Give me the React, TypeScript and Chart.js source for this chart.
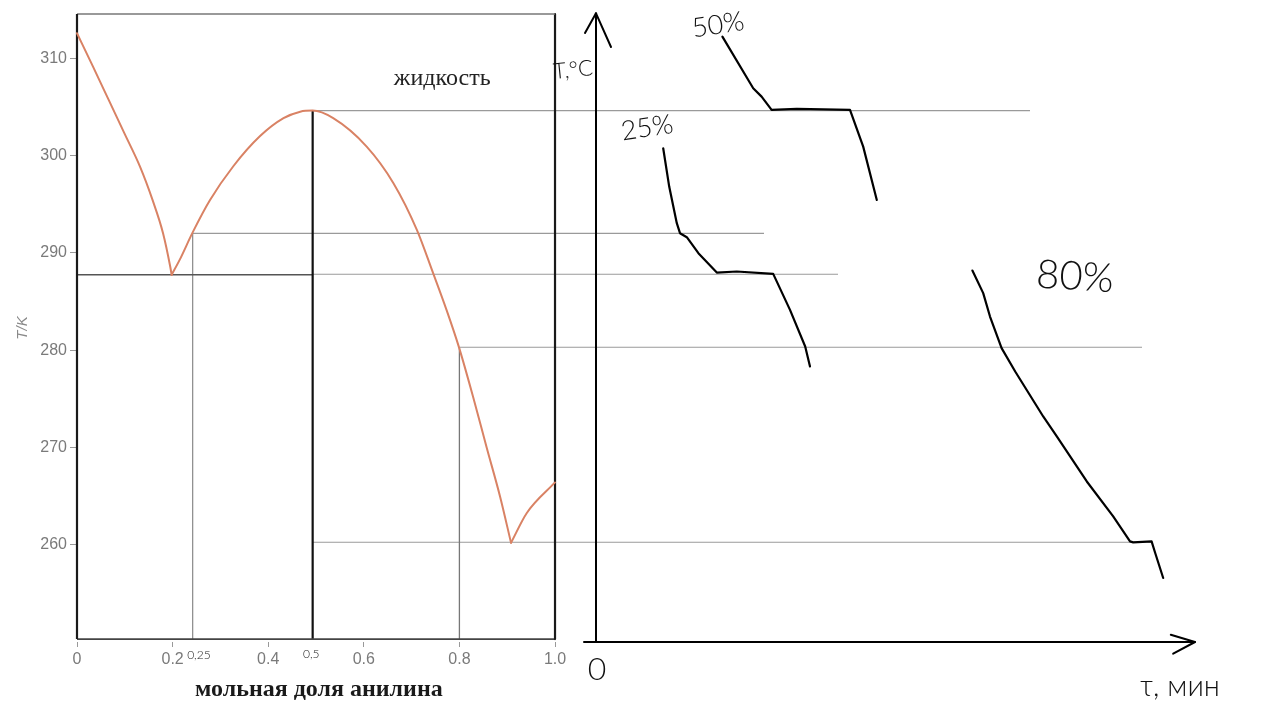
import React, { useEffect, useRef } from "react";
import { Chart, registerables } from "chart.js";

Chart.register(...registerables);

// ---------- axes ----------
const COMPOSITION_TICKS = [0, 0.2, 0.4, 0.6, 0.8, 1.0];
const TEMPERATURE_TICKS = [260, 270, 280, 290, 300, 310];
const T_MIN = 250;
const T_MAX = 314.55;
const X_MIN = 0;
const X_MAX = 2.433;
const TIME_MIN = -12.975;
const TIME_MAX = 16.1;

// ---------- phase diagram (x = мольная доля анилина, T in K) ----------
const LIQUIDUS_PHENOL_X = [0, 0.0335, 0.0663, 0.099, 0.1318, 0.158, 0.18, 0.195, 0.198];
const LIQUIDUS_PHENOL_T = [312.57, 309.14, 305.72, 302.3, 298.86, 295.44, 292.02, 288.59, 287.74];

const LIQUIDUS_COMPOUND_X = [0.198, 0.215, 0.242, 0.278, 0.327, 0.383, 0.432, 0.467, 0.493, 0.536, 0.606, 0.662, 0.711, 0.745, 0.773, 0.799, 0.829, 0.857, 0.885, 0.908];
const LIQUIDUS_COMPOUND_T = [287.74, 289.3, 292.1, 295.4, 298.9, 302.0, 303.84, 304.51, 304.62, 303.84, 300.92, 297.16, 292.36, 287.91, 284.14, 280.31, 275.13, 269.99, 264.96, 260.2];

const LIQUIDUS_ANILINE_X = [0.908, 0.941, 1.0];
const LIQUIDUS_ANILINE_T = [260.2, 263.26, 266.4];

const FRAME_BOTTOM_T = 250.3;
const EUTECTIC_1_T = 287.75;
const COMPOUND_X = 0.493;
const COMPOUND_T = 304.62;
const SAMPLE_25_X = 0.242;
const SAMPLE_25_T = 292.0;
const SAMPLE_80_X = 0.8;
const SAMPLE_80_T = 280.3;
const EUTECTIC_2_T = 260.25;

// guide lines: temperature, start composition, end time on cooling plot
const GUIDE_T = [COMPOUND_T, SAMPLE_25_T, 287.8, SAMPLE_80_T, EUTECTIC_2_T];
const GUIDE_START_X = [COMPOUND_X, SAMPLE_25_X, COMPOUND_X, SAMPLE_80_X, COMPOUND_X];
const GUIDE_END_TIME = [10.85, 4.2, 6.05, 13.65, 13.9];
const BORDER_TIME = -1.025; // time value at composition 1.0

// ---------- cooling curves (time, min; T) ----------
const COOLING_50_TIME = [3.16, 3.93, 4.14, 4.39, 5.02, 6.35, 6.68, 7.02];
const COOLING_50_T = [312.22, 306.92, 306.06, 304.69, 304.79, 304.69, 300.92, 295.44];

const COOLING_25_TIME = [1.68, 1.83, 2.02, 2.1, 2.27, 2.56, 3.02, 3.52, 4.43, 4.85, 5.23, 5.35];
const COOLING_25_T = [300.75, 296.81, 293.05, 292.02, 291.61, 289.97, 287.97, 288.08, 287.84, 284.14, 280.37, 278.32];

const COOLING_80_TIME = [9.41, 9.68, 9.85, 10.14, 10.48, 11.18, 11.52, 12.27, 12.93, 13.35, 13.43, 13.89, 13.98, 14.18];
const COOLING_80_T = [288.18, 285.86, 283.45, 280.21, 277.8, 273.18, 271.13, 266.5, 262.91, 260.34, 260.24, 260.34, 259.15, 256.58];

// hand-drawn axes of the cooling plot
const TIME_AXIS_TIME = [-0.3, 14.975];
const TIME_ARROW_TIME = [14.37, 14.975, 14.43];
const TIME_ARROW_T = [250.75, 250, 248.8];
const TEMP_AXIS_T = [250, 314.62];
const TEMP_ARROW_TIME = [-0.275, 0, 0.375];
const TEMP_ARROW_T = [312.6, 314.62, 311.16];

type Note = { text: string; axis: "x" | "t"; at: number; temp: number; font: string; color: string; rotate?: number };
const NOTES: Note[] = [
  { text: "жидкость", axis: "x", at: 0.764, temp: 307.95, font: "24px 'Liberation Serif'", color: "#222" },
  { text: "мольная доля анилина", axis: "x", at: 0.506, temp: 245.1, font: "bold 24px 'Liberation Serif'", color: "#1a1a1a" },
  { text: "0,25", axis: "x", at: 0.255, temp: 248.6, font: "300 12px Lato", color: "#222" },
  { text: "0,5", axis: "x", at: 0.49, temp: 248.75, font: "300 12px Lato", color: "#222" },
  { text: "T,°C", axis: "t", at: -0.575, temp: 308.8, font: "300 22px Lato", color: "#111", rotate: -0.1 },
  { text: "50%", axis: "t", at: 3.05, temp: 313.42, font: "300 27px Lato", color: "#111", rotate: -0.15 },
  { text: "25%", axis: "t", at: 1.275, temp: 302.84, font: "300 27px Lato", color: "#111", rotate: -0.15 },
  { text: "80%", axis: "t", at: 11.975, temp: 287.53, font: "300 40px Lato", color: "#111", rotate: 0.06 },
  { text: "0", axis: "t", at: 0.025, temp: 247.2, font: "300 32px Lato", color: "#111" },
  { text: "τ, мин", axis: "t", at: 14.6, temp: 245.4, font: "300 29px Lato", color: "#111" },
];

const CURVE_COLOR = "rgb(217,130,100)";

function pts(xs: number[], ys: number[]) {
  return xs.map((x, i) => ({ x, y: ys[i] }));
}

function line(axis: "x" | "t", data: { x: number; y: number }[], color: string, width: number, extra: any = {}) {
  return {
    type: "line" as const,
    xAxisID: axis,
    yAxisID: "y",
    data,
    borderColor: color,
    borderWidth: width,
    pointRadius: 0,
    pointHoverRadius: 0,
    fill: false,
    tension: 0,
    clip: false as any,
    borderCapStyle: "round" as const,
    borderJoinStyle: "round" as const,
    ...extra,
  };
}

const notesPlugin = {
  id: "notes",
  afterDraw(chart: any) {
    const ctx = chart.ctx as CanvasRenderingContext2D;
    const yS = chart.scales.y;
    NOTES.forEach((n) => {
      const xS = chart.scales[n.axis];
      const px = xS.getPixelForValue(n.at);
      const py = yS.getPixelForValue(n.temp);
      ctx.save();
      ctx.translate(px, py);
      if (n.rotate) ctx.rotate(n.rotate);
      ctx.font = n.font;
      ctx.fillStyle = n.color;
      ctx.textAlign = "center";
      ctx.textBaseline = "middle";
      ctx.fillText(n.text, 0, 0);
      ctx.restore();
    });
  },
};

export default function App() {
  const ref = useRef<HTMLCanvasElement>(null);

  useEffect(() => {
    const prevMargin = document.body.style.margin;
    document.body.style.margin = "0";

    const datasets: any[] = [
      // liquidus curves
      line("x", pts(LIQUIDUS_PHENOL_X, LIQUIDUS_PHENOL_T), CURVE_COLOR, 2, { cubicInterpolationMode: "monotone" }),
      line("x", pts(LIQUIDUS_COMPOUND_X, LIQUIDUS_COMPOUND_T), CURVE_COLOR, 2, { cubicInterpolationMode: "monotone" }),
      line("x", pts(LIQUIDUS_ANILINE_X, LIQUIDUS_ANILINE_T), CURVE_COLOR, 2, { cubicInterpolationMode: "monotone" }),
      // cooling curves
      line("t", pts(COOLING_50_TIME, COOLING_50_T), "#000", 2.2),
      line("t", pts(COOLING_25_TIME, COOLING_25_T), "#000", 2.2),
      line("t", pts(COOLING_80_TIME, COOLING_80_T), "#000", 2.2),
      // frame of phase diagram
      line("x", pts([0, 0], [FRAME_BOTTOM_T, T_MAX]), "#1a1a1a", 2.2, { borderCapStyle: "butt" }),
      line("x", pts([0, 1], [T_MAX, T_MAX]), "#777", 1.6, { borderCapStyle: "butt" }),
      line("x", pts([1, 1], [T_MAX, FRAME_BOTTOM_T]), "#1a1a1a", 2.2, { borderCapStyle: "butt" }),
      line("x", pts([0, 1], [FRAME_BOTTOM_T, FRAME_BOTTOM_T]), "#444", 1.6, { borderCapStyle: "butt" }),
      // construction lines
      line("x", pts([COMPOUND_X, COMPOUND_X], [FRAME_BOTTOM_T, COMPOUND_T]), "#111", 2.2, { borderCapStyle: "butt" }),
      line("x", pts([0, COMPOUND_X], [EUTECTIC_1_T, EUTECTIC_1_T]), "#555", 1.5, { borderCapStyle: "butt" }),
      line("x", pts([SAMPLE_25_X, SAMPLE_25_X], [FRAME_BOTTOM_T, SAMPLE_25_T]), "#888", 1.2, { borderCapStyle: "butt" }),
      line("x", pts([SAMPLE_80_X, SAMPLE_80_X], [FRAME_BOTTOM_T, SAMPLE_80_T]), "#777", 1.3, { borderCapStyle: "butt" }),
      // hand-drawn axes
      line("t", pts([0, 0], TEMP_AXIS_T), "#000", 2),
      line("t", pts(TEMP_ARROW_TIME, TEMP_ARROW_T), "#000", 2),
      line("t", pts(TIME_AXIS_TIME, [250, 250]), "#000", 2),
      line("t", pts(TIME_ARROW_TIME, TIME_ARROW_T), "#000", 2),
    ];

    GUIDE_T.forEach((t, i) => {
      datasets.push(line("x", pts([GUIDE_START_X[i], 1], [t, t]), "#9a9a9a", 1.1, { borderCapStyle: "butt" }));
      datasets.push(line("t", pts([BORDER_TIME, GUIDE_END_TIME[i]], [t, t]), "#9a9a9a", 1.1, { borderCapStyle: "butt" }));
    });

    const chart = new Chart(ref.current!, {
      type: "line",
      data: { datasets },
      options: {
        animation: false,
        responsive: false,
        devicePixelRatio: 1,
        layout: { padding: { left: 0, right: 40, top: 14, bottom: 0 } },
        plugins: { legend: { display: false }, tooltip: { enabled: false }, title: { display: false } },
        events: [],
        scales: {
          x: {
            type: "linear",
            position: "bottom",
            min: X_MIN,
            max: X_MAX,
            border: { display: false },
            grid: { display: true, drawOnChartArea: false, drawTicks: true, tickLength: 5, color: "#999", tickColor: "#999" },
            ticks: {
              autoSkip: false,
              maxRotation: 0,
              padding: 3,
              color: "#7a7a7a",
              font: { family: "'Liberation Sans', Arial", size: 16 },
              callback: (v: any) => (Number(v) === 0 ? "0" : Number(v).toFixed(1)),
            },
            afterBuildTicks: (s: any) => {
              s.ticks = COMPOSITION_TICKS.map((v) => ({ value: v }));
            },
            afterFit: (s: any) => {
              s.height = 78;
            },
          },
          t: {
            type: "linear",
            position: "bottom",
            display: false,
            min: TIME_MIN,
            max: TIME_MAX,
          },
          y: {
            type: "linear",
            position: "left",
            min: T_MIN,
            max: T_MAX,
            border: { display: false },
            grid: { display: true, drawOnChartArea: false, drawTicks: true, tickLength: 7, color: "#999", tickColor: "#999" },
            ticks: {
              autoSkip: false,
              padding: 3,
              color: "#7a7a7a",
              font: { family: "'Liberation Sans', Arial", size: 16 },
            },
            afterBuildTicks: (s: any) => {
              s.ticks = TEMPERATURE_TICKS.map((v) => ({ value: v }));
            },
            afterFit: (s: any) => {
              s.width = 77;
            },
            title: {
              display: true,
              text: "T/K",
              color: "#8a8a8a",
              font: { family: "'Liberation Sans', Arial", size: 15, style: "italic" },
              padding: { top: 14, bottom: 0 },
            },
          },
        },
      },
      plugins: [notesPlugin],
    } as any);

    return () => {
      chart.destroy();
      document.body.style.margin = prevMargin;
    };
  }, []);

  return (
    <div style={{ position: "absolute", left: 0, top: 0, width: 1280, height: 720, background: "#fff" }}>
      <canvas ref={ref} width={1280} height={720} style={{ display: "block" }} />
    </div>
  );
}
